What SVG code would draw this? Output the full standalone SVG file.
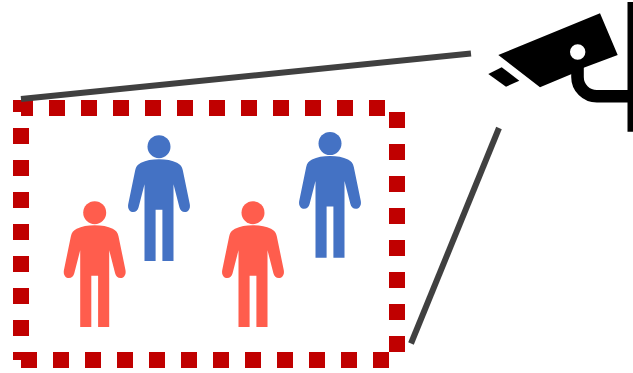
<svg xmlns="http://www.w3.org/2000/svg" xmlns:xlink="http://www.w3.org/1999/xlink" width="633" height="373" viewBox="0 0 633 373">
<style>
.dash{fill:none;stroke:#C00000;stroke-width:16;stroke-dasharray:16 16}
.ray{fill:none;stroke:#404040;stroke-width:6}
.blue{fill:#4472C4}
.red{fill:#FF5D4D}
</style>
<defs>
<g id="person">
<circle cx="0" cy="0" r="11.5"/>
<path d="M0,12.5C7,12.5 13,13.5 18,16C21.5,17.8 23,20 23.8,23.5L30.8,57.5C31.6,62.5 29,65.3 25.8,65.3C23,65.3 21.2,63.5 20.4,60.5L14.5,37.5V114.3H3.4V63H-3.4V114.3H-14.5V37.5L-20.4,60.5C-21.2,63.5 -23,65.3 -25.8,65.3C-29,65.3 -31.6,62.5 -30.8,57.5L-23.8,23.5C-23,20 -21.5,17.8 -18,16C-13,13.5 -7,12.5 0,12.5Z"/>
</g>
</defs>
<rect width="633" height="373" fill="#fff"/>
<g id="monitored-area">
<path class="dash" stroke-dashoffset="4" d="M21,108H385"/>
<path class="dash" d="M397,112V352"/>
<path class="dash" d="M389,360H21"/>
<path class="dash" stroke-dashoffset="8" d="M21,360V100"/>
</g>
<g id="person-blue-1" class="blue"><use xlink:href="#person" href="#person" x="159" y="146.7"/></g>
<g id="person-blue-2" class="blue"><use xlink:href="#person" href="#person" x="330" y="143.5"/></g>
<g id="person-red-1" class="red"><use xlink:href="#person" href="#person" x="94.7" y="212.7"/></g>
<g id="person-red-2" class="red"><use xlink:href="#person" href="#person" x="253" y="212.7"/></g>
<g id="connectors">
<path class="ray" d="M21,99L471,53.5"/>
<path class="ray" d="M499,128L411,343.5"/>
</g>
<g id="camera">
<path d="M627.5,2H633V131.7H627.5Z"/>
<path d="M577.5,66V77A19.3,19.3 0 0 0 596.8,96.3H630" fill="none" stroke="#000" stroke-width="12.6"/>
<path fill-rule="evenodd" d="M498.3,55L600,13.3L617.7,55L583,68L571.7,74L540,87.3ZM585.4,52A7.7,7.7 0 1 0 570,52A7.7,7.7 0 1 0 585.4,52Z"/>
<path d="M488.3,74L501.7,67.3L519.3,80.7L506,86.7Z"/>
</g>
</svg>
